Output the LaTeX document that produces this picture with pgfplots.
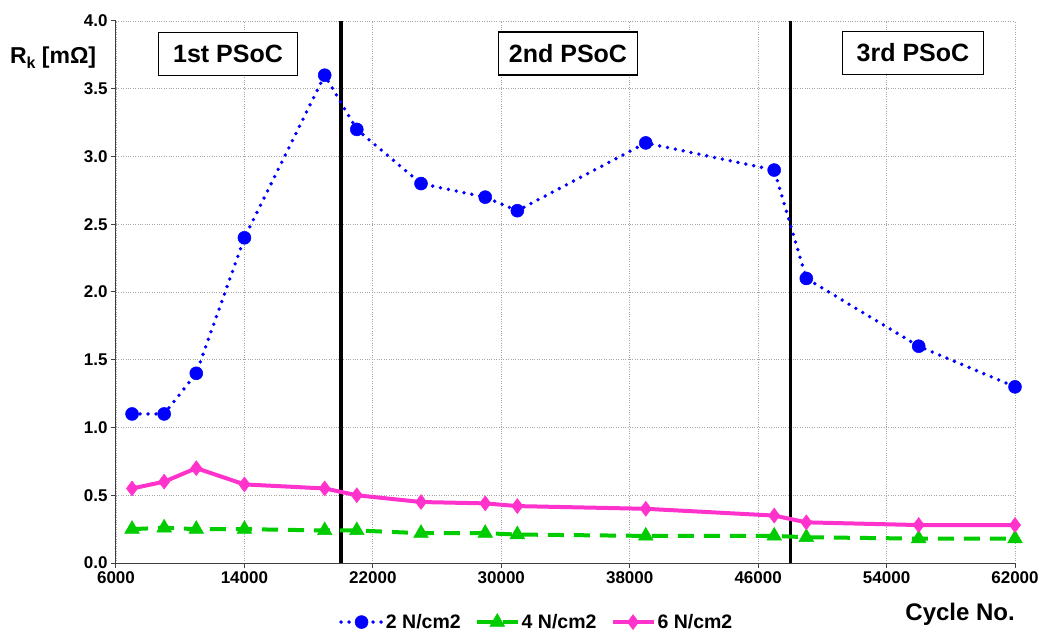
\documentclass[border=0pt]{standalone}
\usepackage{fontspec}
\setmainfont{Liberation Sans}
\usepackage{pgfplots}
\pgfplotsset{compat=1.18}
\definecolor{cblue}{RGB}{0,0,255}
\definecolor{cgreen}{RGB}{0,204,0}
\definecolor{cpink}{RGB}{255,51,204}
\begin{document}
\begin{tikzpicture}
\useasboundingbox (0,0) rectangle (1039bp,633bp);
\begin{axis}[
  at={(116bp,70bp)}, anchor=south west,
  scale only axis, width=899bp, height=542bp,
  xmin=6000, xmax=62000, ymin=0, ymax=4,
  xtick={6000,14000,22000,30000,38000,46000,54000,62000},
  ytick={0,0.5,1,1.5,2,2.5,3,3.5,4},
  scaled x ticks=false, scaled y ticks=false,
  axis x line*=bottom, axis y line*=left,
  axis line style={black!75, line width=1bp, -},
  tick align=outside,
  major tick length=5bp,
  tick style={black!75, line width=1bp},
  grid=major,
  major grid style={gray!70, dotted, line width=0.8bp},
  /pgf/number format/assume math mode=true,
  ticklabel style={font=\fontsize{17bp}{20bp}\selectfont\bfseries},
  x tick label style={/pgf/number format/.cd, fixed, precision=0, 1000 sep={}, /tikz/.cd},
  y tick label style={/pgf/number format/.cd, fixed, fixed zerofill, precision=1, /tikz/.cd},
  legend columns=3,
  legend cell align=left,
  legend style={at={(rel axis cs:0.468,-0.109)}, anchor=center, draw=none, fill=none,
    font=\fontsize{19.5bp}{22bp}\selectfont\bfseries,
    /tikz/every even column/.append style={column sep=12bp}},
  legend image code/.code={\draw[mark repeat=2,mark phase=2,#1] plot coordinates {(0bp,0bp) (20.5bp,0bp) (41bp,0bp)};},
  clip=false,
]
\addplot[black, line width=3.5bp, forget plot] coordinates {(20000,0) (20000,4)};
\addplot[black, line width=3.5bp, forget plot] coordinates {(48000,0) (48000,4)};

\addplot[cblue, line width=3.8bp, dash pattern=on 0bp off 8bp, line cap=round,
  mark=*, mark size=6.5bp, mark options={solid, fill=cblue, draw=cblue, line width=0.5bp}]
  coordinates {(7000,1.1) (9000,1.1) (11000,1.4) (14000,2.4) (19000,3.6) (21000,3.2) (25000,2.8) (29000,2.7) (31000,2.6) (39000,3.1) (47000,2.9) (49000,2.1) (56000,1.6) (62000,1.3)};
\addlegendentry{2 N/cm2}

\addplot[cgreen, line width=4bp, dash pattern=on 16bp off 10bp,
  mark=triangle*, mark size=8.5bp, mark options={solid, fill=cgreen, draw=cgreen, line width=0.5bp}]
  coordinates {(7000,0.25) (9000,0.26) (11000,0.25) (14000,0.25) (19000,0.24) (21000,0.24) (25000,0.22) (29000,0.22) (31000,0.21) (39000,0.20) (47000,0.20) (49000,0.19) (56000,0.18) (62000,0.18)};
\addlegendentry{4 N/cm2}

\addplot[cpink, line width=4bp, solid,
  mark=diamond*, mark size=7.5bp, mark options={solid, fill=cpink, draw=cpink, line width=0.5bp}]
  coordinates {(7000,0.55) (9000,0.60) (11000,0.70) (14000,0.58) (19000,0.55) (21000,0.50) (25000,0.45) (29000,0.44) (31000,0.42) (39000,0.40) (47000,0.35) (49000,0.30) (56000,0.28) (62000,0.28)};
\addlegendentry{6 N/cm2}

\node[draw=black, line width=1.2bp, fill=white, minimum width=139bp, minimum height=43bp, inner sep=0pt,
  font=\fontsize{25bp}{28bp}\selectfont\bfseries] at (axis cs:12980,3.757) {1st PSoC};
\node[draw=black, line width=1.2bp, fill=white, minimum width=139bp, minimum height=43bp, inner sep=0pt,
  font=\fontsize{25bp}{28bp}\selectfont\bfseries] at (axis cs:34155,3.760) {2nd PSoC};
\node[draw=black, line width=1.2bp, fill=white, minimum width=141bp, minimum height=43bp, inner sep=0pt,
  font=\fontsize{25bp}{28bp}\selectfont\bfseries] at (axis cs:55645,3.764) {3rd PSoC};

\node[font=\fontsize{23bp}{26bp}\selectfont\bfseries] at (rel axis cs:-0.070,0.932)
  {R\raisebox{-0.35ex}{\fontsize{16bp}{16bp}\selectfont k} [mΩ]};
\node[font=\fontsize{24bp}{27bp}\selectfont\bfseries] at (rel axis cs:0.939,-0.094) {Cycle No.};
\end{axis}
\end{tikzpicture}
\end{document}
